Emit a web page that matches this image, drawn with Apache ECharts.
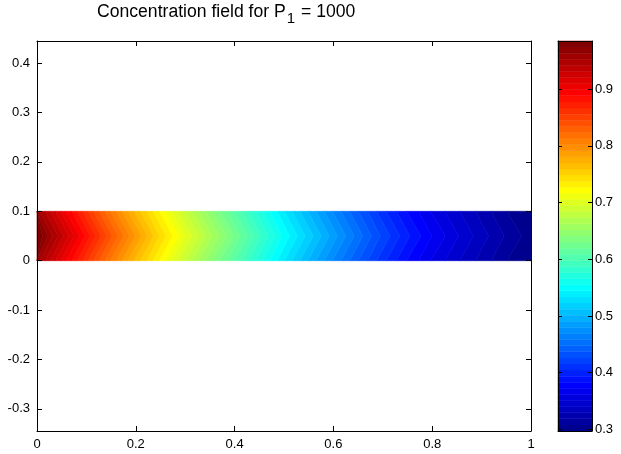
<!DOCTYPE html>
<html>
<head>
<meta charset="utf-8">
<script src="https://cdn.jsdelivr.net/npm/echarts@6/dist/echarts.min.js"></script>
<style>
  html, body { margin: 0; padding: 0; background: #fff; }
  #chart { width: 621px; height: 454px; }
</style>
</head>
<body>
<div id="chart"></div>
<script>
// Mesh nodes along the channel and nodal concentration values
const xNodes = [0, 0.05, 0.10, 0.15, 0.20, 0.25, 0.30, 0.35, 0.40, 0.45, 0.50,
                0.55, 0.60, 0.65, 0.70, 0.75, 0.80, 0.85, 0.90, 0.95, 1.00];
// centreline (y = 0.05)
const cCenter = [0.985, 0.935, 0.885, 0.836, 0.790, 0.746, 0.705, 0.666, 0.628, 0.590, 0.552,
                 0.518, 0.485, 0.453, 0.423, 0.396, 0.372, 0.352, 0.334, 0.317, 0.302];
// walls (y = 0 and y = 0.1)
const cWall = [0.958, 0.908, 0.859, 0.811, 0.766, 0.724, 0.684, 0.645, 0.609, 0.571, 0.534,
               0.500, 0.468, 0.437, 0.408, 0.382, 0.360, 0.342, 0.325, 0.308, 0.297];
const yWallLow = 0, yMid = 0.05, yWallHigh = 0.1;

const xTicks = [0, 0.2, 0.4, 0.6, 0.8, 1];
const yTicks = [-0.3, -0.2, -0.1, 0, 0.1, 0.2, 0.3, 0.4];
const cbTicks = [0.3, 0.4, 0.5, 0.6, 0.7, 0.8, 0.9];

const FONT = 'Liberation Sans, Arial, Helvetica, sans-serif';

// jet colormap
function jet(n) {
  const out = [];
  const q = n / 4;
  const cl = v => Math.max(0, Math.min(1, v));
  for (let i = 1; i <= n; i++) {
    const r = cl(Math.min((i - 1.5 * q) / q, (4.5 * q - i) / q));
    const g = cl(Math.min((i - 0.5 * q) / q, (3.5 * q - i) / q));
    const b = cl(Math.min((i + 0.5 * q) / q, (2.5 * q - i) / q));
    out.push('rgb(' + Math.round(r * 255) + ',' + Math.round(g * 255) + ',' + Math.round(b * 255) + ')');
  }
  return out;
}
const NC = 64;
const cmap = jet(NC);
const cmin = Math.min(...cWall, ...cCenter);
const cmax = Math.max(...cWall, ...cCenter);
const dc = (cmax - cmin) / NC;

// Position along a (decreasing) nodal profile where it takes the value lv
function crossing(profile, lv) {
  if (lv >= profile[0]) return xNodes[0];
  const n = profile.length - 1;
  if (lv <= profile[n]) return xNodes[n];
  for (let i = 0; i < n; i++) {
    const a = profile[i], b = profile[i + 1];
    if (lv <= a && lv >= b) {
      const t = a === b ? 0 : (a - lv) / (a - b);
      return xNodes[i] + t * (xNodes[i + 1] - xNodes[i]);
    }
  }
  return xNodes[n];
}

// One filled band per colormap entry: wall -> centreline -> wall
function renderBand(params, api) {
  const k = params.dataIndex;
  const lo = cmin + k * dc, hi = lo + dc;
  const wHi = crossing(cWall, hi), cHi = crossing(cCenter, hi);
  const wLo = crossing(cWall, lo), cLo = crossing(cCenter, lo);
  const pts = [
    [wHi, yWallLow], [cHi, yMid], [wHi, yWallHigh],
    [wLo, yWallHigh], [cLo, yMid], [wLo, yWallLow]
  ].map(p => api.coord(p));
  return {
    type: 'polygon',
    shape: { points: pts },
    style: { fill: cmap[k], stroke: cmap[k], lineWidth: 0.6 }
  };
}

function renderBarCell(params, api) {
  const k = params.dataIndex;
  const p0 = api.coord([0, cmin + k * dc]);
  const p1 = api.coord([1, cmin + (k + 1) * dc]);
  return {
    type: 'rect',
    shape: { x: p0[0], y: p1[1], width: p1[0] - p0[0], height: p0[1] - p1[1] },
    style: { fill: cmap[k], stroke: cmap[k], lineWidth: 0.5 }
  };
}

const lineBlack = { color: '#000', width: 1 };
const labelStyle = { color: '#000', fontSize: 13, fontFamily: FONT };

const chart = echarts.init(document.getElementById('chart'), null, { renderer: 'canvas' });
chart.setOption({
  backgroundColor: '#fff',
  animation: false,
  title: {
    text: '{t|Concentration field for P}{s|1}{t| = 1000}',
    left: 97,
    top: 3,
    padding: 0,
    textStyle: {
      fontWeight: 'normal',
      rich: {
        t: { fontFamily: FONT, fontSize: 17.6, fontWeight: 'normal', color: '#000', lineHeight: 19, verticalAlign: 'top' },
        s: { fontFamily: FONT, fontSize: 15, fontWeight: 'normal', color: '#000', lineHeight: 17, padding: [8, 1, 0, 1], verticalAlign: 'top' }
      }
    }
  },
  grid: [
    { left: 37, top: 41, width: 494, height: 390, containLabel: false, outerBoundsMode: 'none' },
    { left: 558, top: 41, width: 34, height: 390, containLabel: false, outerBoundsMode: 'none' }
  ],
  xAxis: [
    { type: 'value', gridIndex: 0, min: 0, max: 1, position: 'bottom', z: 10,
      axisLine: { show: true, onZero: false, lineStyle: lineBlack },
      axisTick: { show: true, inside: true, length: 5, customValues: xTicks, lineStyle: lineBlack },
      axisLabel: { show: true, customValues: xTicks, margin: 7, ...labelStyle },
      splitLine: { show: false } },
    { type: 'value', gridIndex: 0, min: 0, max: 1, position: 'top', z: 10,
      axisLine: { show: true, onZero: false, lineStyle: lineBlack },
      axisTick: { show: true, inside: true, length: 5, customValues: xTicks, lineStyle: lineBlack },
      axisLabel: { show: false },
      splitLine: { show: false } },
    { type: 'value', gridIndex: 1, min: 0, max: 1, position: 'bottom', z: 10,
      axisLine: { show: true, onZero: false, lineStyle: lineBlack },
      axisTick: { show: false }, axisLabel: { show: false }, splitLine: { show: false } },
    { type: 'value', gridIndex: 1, min: 0, max: 1, position: 'top', z: 10,
      axisLine: { show: true, onZero: false, lineStyle: lineBlack },
      axisTick: { show: false }, axisLabel: { show: false }, splitLine: { show: false } }
  ],
  yAxis: [
    { type: 'value', gridIndex: 0, min: -0.3447, max: 0.4447, position: 'left', z: 10,
      axisLine: { show: true, onZero: false, lineStyle: lineBlack },
      axisTick: { show: true, inside: true, length: 5, customValues: yTicks, lineStyle: lineBlack },
      axisLabel: { show: true, customValues: yTicks, margin: 7, ...labelStyle },
      splitLine: { show: false } },
    { type: 'value', gridIndex: 0, min: -0.3447, max: 0.4447, position: 'right', z: 10,
      axisLine: { show: true, onZero: false, lineStyle: lineBlack },
      axisTick: { show: true, inside: true, length: 5, customValues: yTicks, lineStyle: lineBlack },
      axisLabel: { show: false },
      splitLine: { show: false } },
    { type: 'value', gridIndex: 1, min: cmin, max: cmax, position: 'left', z: 10,
      axisLine: { show: true, onZero: false, lineStyle: lineBlack },
      axisTick: { show: true, inside: true, length: 4, customValues: cbTicks, lineStyle: lineBlack },
      axisLabel: { show: false },
      splitLine: { show: false } },
    { type: 'value', gridIndex: 1, min: cmin, max: cmax, position: 'right', z: 10,
      axisLine: { show: true, onZero: false, lineStyle: lineBlack },
      axisTick: { show: true, inside: true, length: 4, customValues: cbTicks, lineStyle: lineBlack },
      axisLabel: { show: true, customValues: cbTicks, margin: 3, ...labelStyle },
      splitLine: { show: false } }
  ],
  series: [
    {
      type: 'custom',
      name: 'concentration',
      xAxisIndex: 0,
      yAxisIndex: 0,
      z: 2,
      silent: true,
      renderItem: renderBand,
      data: cmap.map((c, k) => [crossing(cCenter, cmin + (k + 0.5) * dc), yMid])
    },
    {
      type: 'custom',
      name: 'colorbar',
      xAxisIndex: 2,
      yAxisIndex: 2,
      z: 2,
      silent: true,
      renderItem: renderBarCell,
      data: cmap.map((c, k) => [0.5, cmin + (k + 0.5) * dc])
    }
  ]
});
</script>
</body>
</html>
